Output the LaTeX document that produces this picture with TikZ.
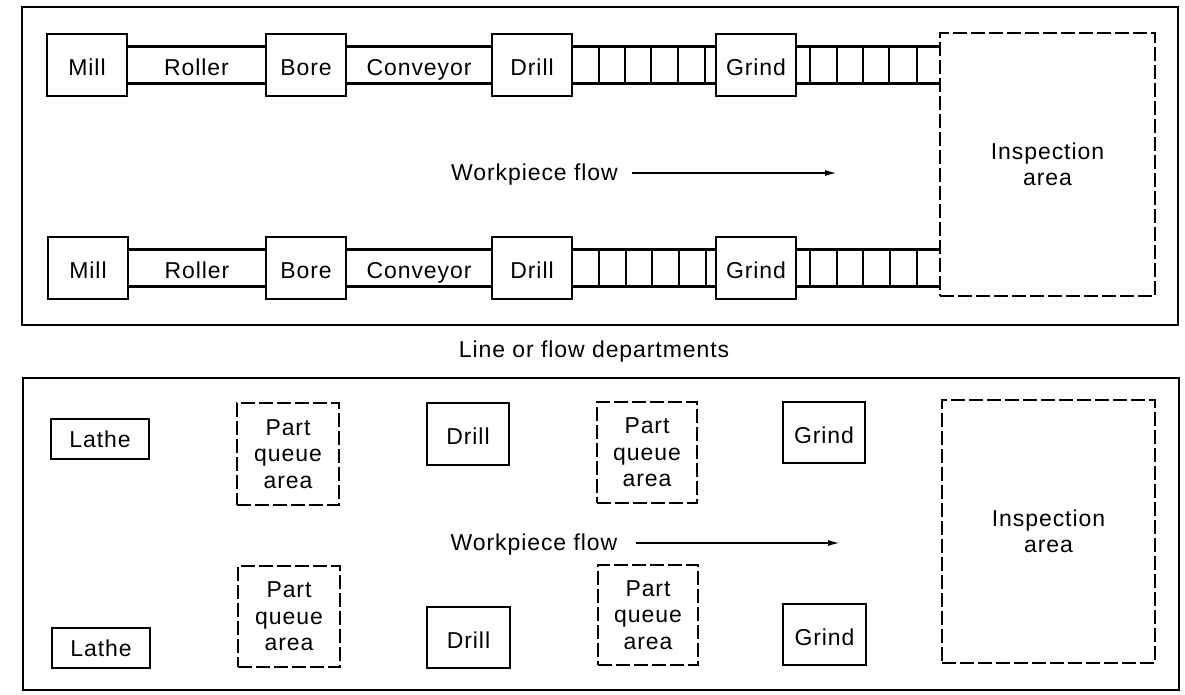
\documentclass[tikz,border=0pt]{standalone}
\usepackage{fontspec}
\setmainfont[LetterSpace=4]{Liberation Sans}
\usetikzlibrary{arrows.meta,calc}
\begin{document}
\begin{tikzpicture}[x=1pt,y=-1pt,
  every node/.style={font=\fontsize{23}{26.5}\selectfont, align=center, inner sep=0pt},
  oneline/.style={text height=21pt, text depth=0pt},
  frame/.style={draw, line width=2.8pt},
  mach/.style={draw, oneline, line width=2.8pt, fill=white, minimum width=80pt, minimum height=62pt},
  lathebox/.style={draw, text height=17pt, text depth=0pt, line width=2.8pt, fill=white, minimum width=98pt, minimum height=40pt},
  cell/.style={line width=2.1pt},
  area/.style={draw, line width=1.9pt, dash pattern=on 14pt off 4pt},
  flow/.style={line width=1.7pt, -{Latex[length=12pt,width=6pt]}}
]
\useasboundingbox (0,0) rectangle (1185,694);

% ---------- Line or flow departments ----------
\draw[frame] (22,7) rectangle (1178,325);

\coordinate (r1t) at (0,46.5);
\coordinate (r1b) at (0,83.5);
\coordinate (r2t) at (0,249.5);
\coordinate (r2b) at (0,286.5);

\node[area, minimum width=215pt, minimum height=263pt] (insp1) at (1047.5,164.5) {Inspection\\area};

% row 1
\node[mach] (mill1)  at (87,65)  {Mill};
\node[mach] (bore1)  at (306,65) {Bore};
\node[mach] (drill1) at (532,65) {Drill};
\node[mach] (grind1) at (756,65) {Grind};
\draw[cell] (mill1.east |- r1t) -- (bore1.west |- r1t) (mill1.east |- r1b) -- (bore1.west |- r1b);
\draw[cell] (bore1.east |- r1t) -- (drill1.west |- r1t) (bore1.east |- r1b) -- (drill1.west |- r1b);
\draw[cell] (drill1.east |- r1t) -- (grind1.west |- r1t) (drill1.east |- r1b) -- (grind1.west |- r1b);
\draw[cell] (grind1.east |- r1t) -- (insp1.west |- r1t) (grind1.east |- r1b) -- (insp1.west |- r1b);
\foreach \x in {599,625,651,678,705,810,837,863,889,917}
  \draw[cell] (\x,46.5) -- (\x,83.5);
\node[oneline] (roller1) at ($(mill1.east)!0.5!(bore1.west)$) {Roller};
\node[oneline] (conv1) at ($(bore1.east)!0.5!(drill1.west)$) {Conveyor};

% row 2
\node[mach] (mill2)  at (88,268)  {Mill};
\node[mach] (bore2)  at (306,268) {Bore};
\node[mach] (drill2) at (532,268) {Drill};
\node[mach] (grind2) at (756,268) {Grind};
\draw[cell] (mill2.east |- r2t) -- (bore2.west |- r2t) (mill2.east |- r2b) -- (bore2.west |- r2b);
\draw[cell] (bore2.east |- r2t) -- (drill2.west |- r2t) (bore2.east |- r2b) -- (drill2.west |- r2b);
\draw[cell] (drill2.east |- r2t) -- (grind2.west |- r2t) (drill2.east |- r2b) -- (grind2.west |- r2b);
\draw[cell] (grind2.east |- r2t) -- (insp1.west |- r2t) (grind2.east |- r2b) -- (insp1.west |- r2b);
\foreach \x in {599,626,652,679,706,810,837,863,890,917}
  \draw[cell] (\x,249.5) -- (\x,286.5);
\node[oneline] (roller2) at ($(mill2.east)!0.5!(bore2.west)$) {Roller};
\node[oneline] (conv2) at ($(bore2.east)!0.5!(drill2.west)$) {Conveyor};

\node[oneline] (wf1) at (534.5,170) {Workpiece flow};
\coordinate (wf1s) at (632,173);
\coordinate (wf1e) at (837,173);
\draw[flow] (wf1s) -- (wf1e);

\node[oneline] (cap1) at (594,347) {Line or flow departments};

% ---------- Functional departments ----------
\draw[frame] (23,378) rectangle (1179,690);

\node[area, minimum width=213pt, minimum height=263pt] (insp2) at (1048.5,531.5) {Inspection\\area};

\node[lathebox] (lathe1) at (100,439) {Lathe};
\node[area, minimum width=102pt, minimum height=102pt] (pq1) at (288,454) {Part\\queue\\area};
\node[mach, minimum width=82pt] (drill3) at (468,434) {Drill};
\node[area, minimum width=100pt, minimum height=101pt] (pq2) at (647,452.5) {Part\\queue\\area};
\node[mach, minimum width=82pt, minimum height=61pt] (grind3) at (824,432.5) {Grind};

\node[lathebox] (lathe2) at (101,648) {Lathe};
\node[area, minimum width=102pt, minimum height=101pt] (pq3) at (289,616.5) {Part\\queue\\area};
\node[mach, minimum width=83pt, minimum height=61pt] (drill4) at (468.5,637.5) {Drill};
\node[area, minimum width=100pt, minimum height=100pt] (pq4) at (648,615) {Part\\queue\\area};
\node[mach, minimum width=83pt, minimum height=61pt] (grind4) at (824.5,634.5) {Grind};

\node[oneline] (wf2) at (534,540) {Workpiece flow};
\coordinate (wf2s) at (636,543);
\coordinate (wf2e) at (840,543);
\draw[flow] (wf2s) -- (wf2e);
\end{tikzpicture}
\end{document}
